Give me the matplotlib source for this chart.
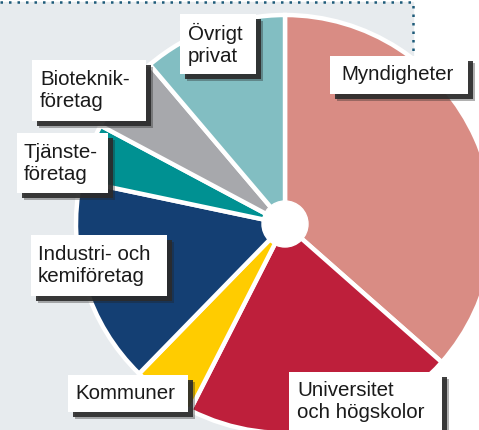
import matplotlib
matplotlib.use('Agg')
import matplotlib.pyplot as plt
from matplotlib.patches import Rectangle, Circle

# andelar (procent), medurs från kl. 12
labels = ['Myndigheter', 'Universitet\noch högskolor', 'Kommuner',
          'Industri- och\nkemiföretag', 'Tjänste-\nföretag',
          'Bioteknik-\nföretag', 'Övrigt\nprivat']
values = [36.5, 21.0, 4.8, 16.0, 4.5, 6.0, 11.2]
colors = ['#D98C84', '#BE1F3B', '#FFCC00', '#143F73', '#009192',
          '#A7A8AC', '#82BEC2']

W, H = 479, 430
plt.rcParams['font.family'] = ['Liberation Sans', 'DejaVu Sans']

fig = plt.figure(figsize=(W / 100, H / 100), dpi=100)
ax = fig.add_axes([0, 0, 1, 1])

# bakgrund och prickad ram
ax.add_patch(Rectangle((0, 0), 413, H - 2, color='#E7EBEE', zorder=0))
ax.plot([0, 413, 413], [H - 1.5, H - 1.5, 150], color='#1D5B79', lw=1.8,
        linestyle=(0, (1, 2.4)), solid_capstyle='butt',
        dash_capstyle='butt', zorder=1)

cx, cy, r = 285, H - 224, 209
ax.pie(values, colors=colors, startangle=90, counterclock=False,
       center=(cx, cy), radius=r, frame=True,
       wedgeprops=dict(edgecolor='white', linewidth=3.2))
ax.add_patch(Circle((cx, cy), 23, color='white', zorder=5))

# etikettrutor: (x0, y0, x1, y1) i pixlar, textens x
boxes = [(330, 56, 468, 94, 341),
         (289, 372, 442, 440, 297),
         (68, 375, 188, 412, 75),
         (31, 235, 167, 296, 38),
         (17, 133, 108, 193, 24),
         (32, 60, 146, 121, 40),
         (180, 14, 256, 74, 188)]

for (x0, y0, x1, y1, tx), lab in zip(boxes, labels):
    w, h = x1 - x0, y1 - y0
    ax.add_patch(Rectangle((x0 + 7, H - y1 - 7), w, h, color='#222222',
                           alpha=0.35, zorder=6, lw=0))
    ax.add_patch(Rectangle((x0 + 5, H - y1 - 5), w, h, color='#2b2b2b',
                           alpha=0.9, zorder=6, lw=0))
    ax.add_patch(Rectangle((x0, H - y1), w, h, color='white', zorder=7,
                           lw=0))
    yc = (y0 + y1) / 2
    if lab.startswith('Universitet'):
        yc = 401
    ax.text(tx, H - yc, lab, ha='left', va='center', fontsize=14.8,
            color='#1a1a1a', linespacing=1.2, zorder=8)

ax.set_xlim(0, W)
ax.set_ylim(0, H)
ax.set_aspect('auto')
ax.axis('off')

fig.savefig('out.png', dpi=100, facecolor='white')
